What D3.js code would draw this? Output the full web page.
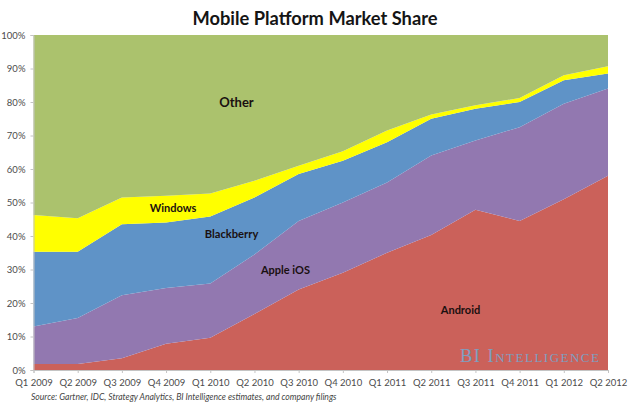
<!DOCTYPE html>
<html>
<head>
<meta charset="utf-8">
<script src="https://cdn.jsdelivr.net/npm/d3@7/dist/d3.min.js"></script>
<style>
html, body { margin: 0; padding: 0; background: #fff; }
svg { display: block; }
text { font-family: Lato, "Open Sans", sans-serif; }
</style>
</head>
<body>
<div id="chart"></div>
<script>
const quarters = ["Q1 2009","Q2 2009","Q3 2009","Q4 2009","Q1 2010","Q2 2010","Q3 2010","Q4 2010","Q1 2011","Q2 2011","Q3 2011","Q4 2011","Q1 2012","Q2 2012"]
const platforms = ["Android","Apple iOS","Blackberry","Windows","Other"]
const android = [1.8,1.8,3.5,7.8,9.6,16.7,24,29,35,40.3,47.8,44.5,51,58]
const ios = [11.2,13.7,18.8,16.7,16.2,17.8,20.5,21,21,23.7,20.7,28,28.5,26]
const blackberry = [22.3,19.8,21.2,19.5,20,17,14,12.5,12,11,9.5,7.5,7,4.5]
const windows = [11,10,8,8,6.9,5,2.5,2.8,3.5,1.3,1,1.2,1.5,2.2]
const other = [53.7,54.7,48.5,48,47.3,43.5,39,34.7,28.5,23.7,21,18.8,12,9.3]
const colors = ["#cb615a","#9278b0","#5f93c7","#ffff00","#abc26d"]
const yTicks = [0,10,20,30,40,50,60,70,80,90,100]

const series = [android, ios, blackberry, windows, other]
const rows = quarters.map((q, i) => {
	const row = {quarter: q}
	platforms.forEach((p, j) => { row[p] = series[j][i] })
	return row
})

const svg = d3.select("#chart").append("svg")
	.attr("width", 630)
	.attr("height", 404)

const x = d3.scalePoint().domain(quarters).range([33.5, 608])
const y = d3.scaleLinear().domain([0, 100]).range([370, 35])

const stacked = d3.stack().keys(platforms)(rows)
const area = d3.area()
	.x(d => x(d.data.quarter))
	.y0(d => y(d[0]))
	.y1(d => y(d[1]))

svg.append("g").selectAll("path")
	.data(stacked)
	.enter().append("path")
	.attr("d", area)
	.attr("fill", (d, i) => colors[i])

// axes
const xAxis = svg.append("g")
	.attr("transform", "translate(0,370)")
	.call(d3.axisBottom(x).tickSize(3).tickPadding(6))
const yAxis = svg.append("g")
	.attr("transform", "translate(33.5,0)")
	.call(d3.axisLeft(y).tickValues(yTicks).tickFormat(d => d + "%").tickSize(3).tickPadding(5))

for (const ax of [xAxis, yAxis]) {
	ax.selectAll("path, line").attr("stroke", "#c4c4c4")
	ax.selectAll("text").style("font-family", "Lato, sans-serif").style("font-size", "9.5px").attr("fill", "#4c4c4c")
}

svg.append("text")
	.attr("x", 315).attr("y", 25)
	.attr("text-anchor", "middle")
	.attr("font-size", 18.3).attr("font-weight", 700).attr("fill", "#151515")
	.text("Mobile Platform Market Share")

// series labels sit inside the areas
const labels = [
	{text: "Other", px: 236.5, py: 106.5, size: 13},
	{text: "Windows", px: 173, py: 212, size: 11},
	{text: "Blackberry", px: 231.5, py: 238, size: 11.2},
	{text: "Apple iOS", px: 285.5, py: 274, size: 11},
	{text: "Android", px: 460.5, py: 314, size: 11}
]
svg.append("g").selectAll("text")
	.data(labels)
	.enter().append("text")
	.attr("x", d => d.px).attr("y", d => d.py)
	.attr("text-anchor", "middle")
	.attr("font-size", d => d.size).attr("font-weight", 700).attr("fill", "#1a1010")
	.text(d => d.text)

svg.append("text")
	.attr("x", 31).attr("y", 400)
	.attr("font-size", 8.6).attr("font-style", "italic").attr("fill", "#444")
	.text("Source: Gartner, IDC, Strategy Analytics, BI Intelligence estimates, and company filings")

svg.append("text")
	.attr("x", 600.5).attr("y", 362)
	.attr("text-anchor", "end")
	.style("font-family", '"Liberation Serif", serif')
	.style("font-variant", "small-caps")
	.attr("font-size", 18.5).attr("letter-spacing", 1.5).attr("fill", "#7f9fc0")
	.text("BI Intelligence")
</script>
</body>
</html>
